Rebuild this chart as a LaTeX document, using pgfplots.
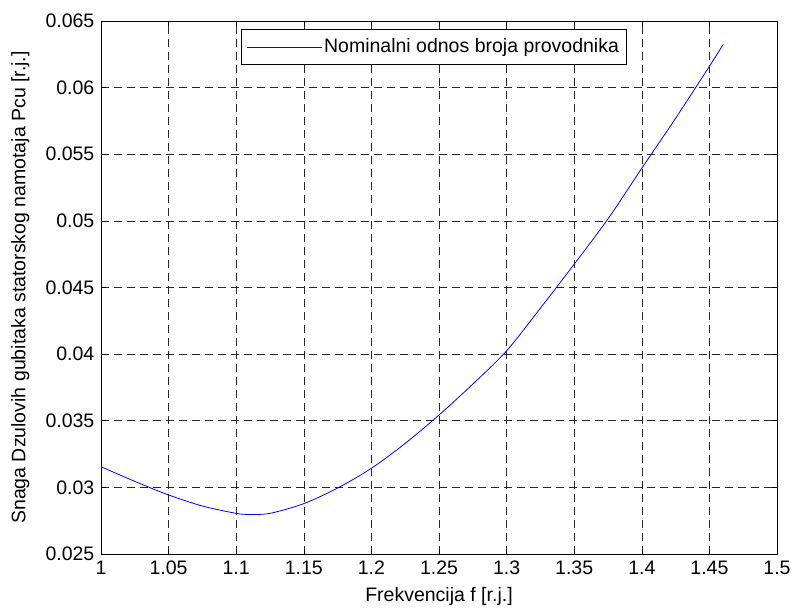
\documentclass[border=0pt]{standalone}
\usepackage{pgfplots}
\pgfplotsset{compat=1.18}
\usepackage{fontspec}
\setmainfont{Liberation Sans}
\begin{document}
\fontsize{19.5}{23}\selectfont
\begin{tikzpicture}
\begin{axis}[
  scale only axis, width=676pt, height=533pt,
  xmin=1, xmax=1.5, ymin=0.025, ymax=0.065,
  xtick={1,1.05,1.1,1.15,1.2,1.25,1.3,1.35,1.4,1.45,1.5},
  ytick={0.025,0.03,0.035,0.04,0.045,0.05,0.055,0.06,0.065},
  scaled x ticks=false, scaled y ticks=false,
  xticklabel style={/pgf/number format/.cd, fixed, precision=3, assume math mode=true},
  yticklabel style={/pgf/number format/.cd, fixed, precision=3, assume math mode=true},
  tick label style={font=\fontsize{19.5}{23}\selectfont},
  label style={font=\fontsize{19.5}{23}\selectfont},
  tick align=inside, major tick length=5pt,
  tick style={black, line width=0.6pt},
  axis line style={black, line width=0.8pt},
  grid=major,
  major grid style={black!85, dash pattern=on 8pt off 5pt, line width=0.6pt},
  xlabel={Frekvencija f [r.j.]},
  ylabel={Snaga Dzulovih gubitaka statorskog namotaja Pcu [r.j.]},
  xlabel style={yshift=0pt},
  ylabel style={yshift=3pt},
  legend style={at={(0.207,0.985)}, anchor=north west, draw=black, line width=0.8pt,
    inner xsep=5pt, inner ysep=7pt, font=\fontsize{19.5}{23}\selectfont},
  legend cell align=left,
  legend image code/.code={\path (0pt,0pt) -- (75pt,0pt); \draw[blue, line width=0.8pt] (3pt,0pt) -- (65pt,0pt);},
]
\addplot[blue, line width=0.8pt, smooth] coordinates {
(1.000,0.03155) (1.025,0.03045) (1.050,0.02943) (1.075,0.02860) (1.100,0.02805)
(1.110,0.02797) (1.125,0.02805) (1.150,0.02878) (1.175,0.02995) (1.200,0.03143)
(1.225,0.03330) (1.250,0.03543) (1.275,0.03775) (1.300,0.04025) (1.325,0.04345)
(1.350,0.04675) (1.375,0.05015) (1.400,0.05395) (1.425,0.05770) (1.450,0.06160)
(1.4603,0.06325)
};
\addlegendentry{Nominalni odnos broja provodnika}
\end{axis}
\pgfresetboundingbox
\path[use as bounding box] ([xshift=-101pt,yshift=-54pt]current axis.south west) rectangle ([xshift=17pt,yshift=21pt]current axis.north east);
\end{tikzpicture}
\end{document}
